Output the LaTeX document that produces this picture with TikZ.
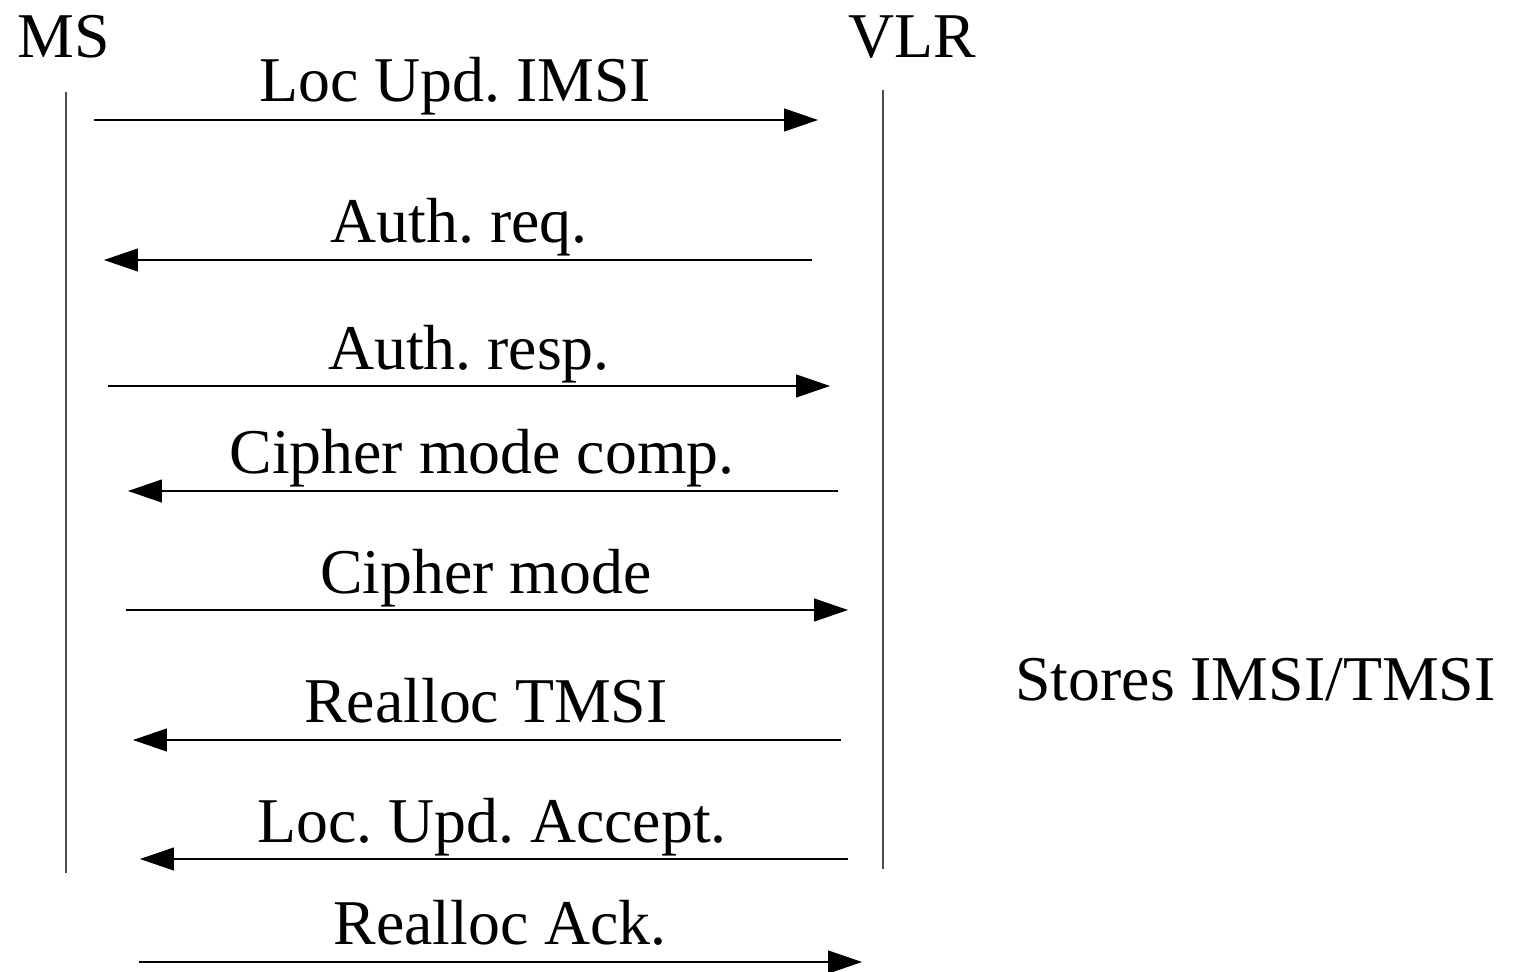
\documentclass[tikz,border=0pt]{standalone}
\usepackage{fontspec}
\setmainfont{Liberation Serif}
\usetikzlibrary{arrows.meta}
\begin{document}
\frenchspacing
\begin{tikzpicture}[x=0.02cm,y=-0.02cm,
  lbl/.style={anchor=base,inner sep=0pt,font=\fontsize{36.3}{42}\selectfont},
  life/.style={line width=0.6pt,black!70},
  msg/.style={line width=0.6pt,-{Triangle[length=0.68cm,width=0.46cm]}}]
\useasboundingbox (0,0) rectangle (1517,972);
% entity names and lifelines
\node[lbl,anchor=base west] (ms) at (17,58) {MS};
\node[lbl,anchor=base west] (vlr) at (848,58) {VLR};
\coordinate (msT) at (66,92);  \coordinate (msB) at (66,873);
\coordinate (vlrT) at (883,90); \coordinate (vlrB) at (883,869);
\draw[life] (msT) -- (msB);
\draw[life] (vlrT) -- (vlrB);
% messages
\coordinate (a1s) at (94,120);  \coordinate (a1e) at (818,120);
\coordinate (a2s) at (812,260); \coordinate (a2e) at (104,260);
\coordinate (a3s) at (108,386); \coordinate (a3e) at (830,386);
\coordinate (a4s) at (838,491); \coordinate (a4e) at (128,491);
\coordinate (a5s) at (126,610); \coordinate (a5e) at (848,610);
\coordinate (a6s) at (841,740); \coordinate (a6e) at (133,740);
\coordinate (a7s) at (848,859); \coordinate (a7e) at (140,859);
\coordinate (a8s) at (139,962); \coordinate (a8e) at (862,962);
\draw[msg] (a1s) -- (a1e);
\draw[msg] (a2s) -- (a2e);
\draw[msg] (a3s) -- (a3e);
\draw[msg] (a4s) -- (a4e);
\draw[msg] (a5s) -- (a5e);
\draw[msg] (a6s) -- (a6e);
\draw[msg] (a7s) -- (a7e);
\draw[msg] (a8s) -- (a8e);
\node[lbl] (t1) at (455,102) {Loc Upd. IMSI};
\node[lbl] (t2) at (459,243) {Auth. req.};
\node[lbl] (t3) at (469,370) {Auth. resp.};
\node[lbl] (t4) at (482,474) {Cipher mode comp.};
\node[lbl] (t5) at (486,593) {Cipher mode};
\node[lbl] (t6) at (486,722) {Realloc TMSI};
\node[lbl] (t7) at (492,842) {Loc. Upd. Accept.};
\node[lbl] (t8) at (500,944) {Realloc Ack.};
% note beside VLR
\node[lbl,anchor=base west] (note) at (1015,700) {Stores IMSI/TMSI};
\end{tikzpicture}
\end{document}
